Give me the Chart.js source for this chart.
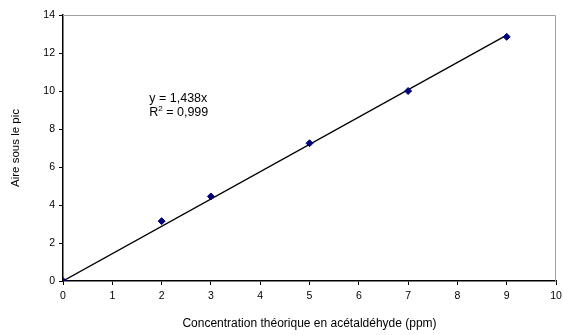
<!DOCTYPE html>
<html>
<head>
<meta charset="utf-8">
<script src="https://cdn.jsdelivr.net/npm/chart.js@4/dist/chart.umd.min.js"></script>
<style>
  html, body { margin: 0; padding: 0; background: #fff; }
  #wrap { width: 563px; height: 335px; }
</style>
</head>
<body>
<div id="wrap"><canvas id="calib"></canvas></div>
<script>
const concentrations = [0, 2, 3, 5, 7, 9];
const peakAreas = [0, 3.15, 4.45, 7.25, 10.0, 12.85];
const slope = 1.438;
const trendX = [0, 9];
const equationLines = ["y = 1,438x", "R² = 0,999"];

const points = concentrations.map((x, i) => ({ x: x, y: peakAreas[i] }));
const trend = trendX.map(x => ({ x: x, y: slope * x }));

const FONT = "'Liberation Sans', Arial, sans-serif";

// gray frame on top/right + equation label
const framePlugin = {
  id: "frame",
  beforeDatasetsDraw(chart) {
    const a = chart.chartArea, c = chart.ctx;
    c.save();
    c.strokeStyle = "#a0a0a0";
    c.lineWidth = 1;
    c.beginPath();
    c.moveTo(a.left, a.top + 0.5);
    c.lineTo(a.right - 0.5, a.top + 0.5);
    c.lineTo(a.right - 0.5, a.bottom);
    c.stroke();
    c.restore();
  },
  afterDraw(chart) {
    const c = chart.ctx;
    const sx = chart.scales.x, sy = chart.scales.y;
    const x0 = sx.getPixelForValue(1.75);
    const y0 = sy.getPixelForValue(9.6);
    c.save();
    c.fillStyle = "#000";
    c.font = "12.5px " + FONT;
    c.textBaseline = "middle";
    c.fillText(equationLines[0], x0, y0);
    c.fillText("R", x0, y0 + 14);
    const rw = c.measureText("R").width;
    c.font = "8px " + FONT;
    c.fillText("2", x0 + rw, y0 + 10);
    const w2 = c.measureText("2").width;
    c.font = "12.5px " + FONT;
    c.fillText(" = 0,999", x0 + rw + w2, y0 + 14);
    c.restore();
  }
};

new Chart(document.getElementById("calib"), {
  type: "scatter",
  data: {
    datasets: [
      {
        label: "Aire",
        data: points,
        pointStyle: "rectRot",
        pointRadius: 3.5,
        backgroundColor: "#00007a",
        borderColor: "#00007a",
        borderWidth: 1,
        order: 1
      },
      {
        label: "Tendance",
        data: trend,
        type: "line",
        showLine: true,
        pointRadius: 0,
        borderColor: "#000",
        borderWidth: 1.3,
        order: 2
      }
    ]
  },
  plugins: [framePlugin],
  options: {
    responsive: true,
    maintainAspectRatio: false,
    animation: false,
    layout: { padding: { top: 15, right: 7, left: 5, bottom: 0 } },
    plugins: {
      legend: { display: false },
      tooltip: { enabled: false }
    },
    scales: {
      x: {
        type: "linear",
        min: 0,
        max: 10,
        afterFit(s) { s.height = 54; s.paddingRight = 0; },
        ticks: {
          stepSize: 1,
          color: "#000",
          font: { family: FONT, size: 10.5 },
          padding: 5
        },
        grid: { drawOnChartArea: false, drawTicks: true, tickLength: 4, color: "#000" },
        border: { color: "#000", width: 1.5 },
        title: {
          display: true,
          text: "Concentration théorique en acétaldéhyde (ppm)",
          color: "#000",
          font: { family: FONT, size: 12 },
          padding: { top: 11 }
        }
      },
      y: {
        min: 0,
        max: 14,
        afterFit(s) { s.width = 58; },
        ticks: {
          stepSize: 2,
          color: "#000",
          font: { family: FONT, size: 10.5 },
          padding: 4
        },
        grid: { drawOnChartArea: false, drawTicks: true, tickLength: 4, color: "#000" },
        border: { color: "#000", width: 1.5 },
        title: {
          display: true,
          text: "Aire sous le pic",
          color: "#000",
          font: { family: FONT, size: 11.5 },
          padding: { bottom: 12 }
        }
      }
    }
  }
});
</script>
</body>
</html>
